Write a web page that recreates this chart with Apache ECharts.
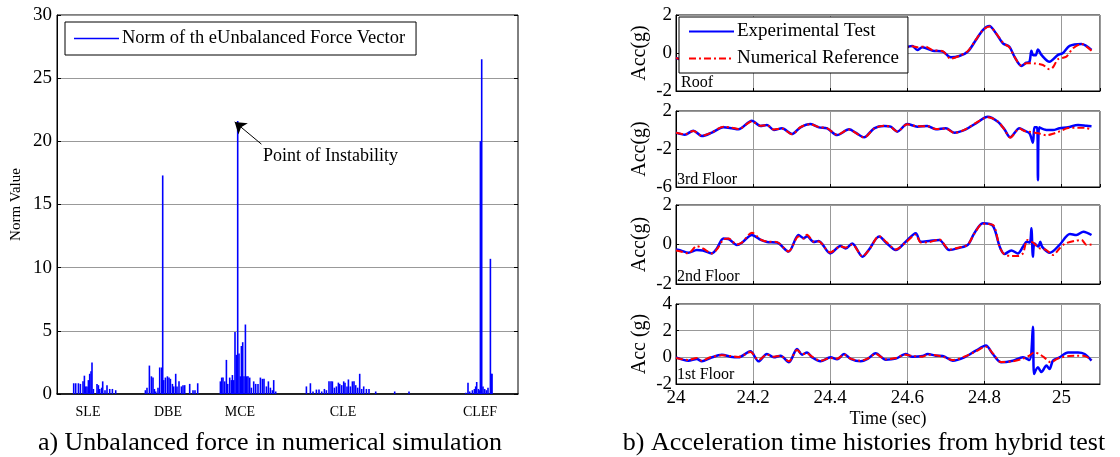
<!DOCTYPE html>
<html>
<head>
<meta charset="utf-8">
<script src="https://cdn.jsdelivr.net/npm/echarts@6/dist/echarts.min.js"></script>
<style>
html,body{margin:0;padding:0;background:#fff}
#chart{width:1120px;height:457px}
</style>
</head>
<body>
<div id="chart"></div>
<script>
// ---- a) unbalanced force norm, [step, norm] ----
var eventNames = ['SLE', 'DBE', 'MCE', 'CLE', 'CLEF'];
var eventSteps = [31, 111, 183, 286, 423];

var sleSpikes = [[16.7,0.85],[18.7,0.85],[21.4,0.85],[23.4,0.8],[26,1.0],[27.4,1.45],[28.7,0.6],[30,0.6],[31.4,1.1],[32.7,1.6],[34,1.8],[35,2.5],[36.4,0.4],[40,0.8],[41.4,0.7],[42.7,0.4],[44.7,0.5],[45.7,1.0],[48,0.3],[50,0.7],[52.7,0.4],[55.4,0.4],[58.7,0.3]];
var dbeSpikes = [[88.4,0.3],[90,0.5],[92.4,2.25],[94.4,1.4],[96,1.3],[97.4,0.4],[98.7,0.2],[101,0.5],[102.7,2.1],[104.7,2.1],[105.7,17.3],[106.7,1.1],[108.4,1.3],[110.4,1.4],[112,1.3],[113.4,1.2],[115.4,0.8],[116.7,0.6],[118.7,1.6],[120,0.6],[122,1.0],[124.4,0.6],[126,0.7],[127.7,0.7],[132.7,0.8],[136,0.3],[138,0.3],[140.7,0.85]];
var mceSpikes = [[163.4,1.0],[164.7,1.3],[166,1.3],[167.7,1.0],[169.4,2.7],[170.7,0.8],[172.7,1.3],[174.4,1.1],[175.4,1.5],[176.7,1.1],[178,4.9],[179.4,3.1],[180.7,21.6],[182,3.2],[183.4,1.4],[184.4,3.8],[185.7,4.1],[187,1.4],[188.4,5.5],[189.7,1.4],[191,1.4],[192.7,1.3],[194.4,0.5],[196.7,1.0],[198.7,0.8],[201,0.8],[203.4,1.3],[205.4,1.2],[207,1.2],[209.4,0.6],[211.4,1.0],[213.4,0.5],[215.4,0.3],[216.7,1.1],[218.7,0.2]];
var cleSpikes = [[249.4,0.6],[253.4,0.85],[256,0.2],[259.4,0.35],[262,0.35],[264.7,0.2],[267.4,0.4],[269.4,0.3],[272,1.0],[274,1.0],[275.4,1.0],[277.4,0.5],[279.4,0.6],[281.4,0.9],[282.7,0.8],[284.7,0.7],[286.7,1.0],[288,0.9],[290,0.6],[291.4,1.15],[293.4,0.6],[295.4,1.0],[297,1.0],[298.7,0.7],[300.7,0.5],[302.7,1.6],[304.7,0.4],[306.7,0.6],[309.4,0.4],[312,0.4],[318.7,0.2],[337.7,0.2],[352,0.2]];
var clefSpikes = [[408.7,0.1],[411,0.9],[412.7,0.2],[415.4,0.3],[417.4,0.4],[418.7,0.6],[419.7,0.95],[421.4,0.4],[422.7,0.3],[423.4,20.0],[424,20.0],[424.7,26.5],[426,0.6],[427.7,0.4],[429.4,0.3],[431,0.5],[433.4,10.7],[434.4,1.6],[435,1.6]];

// arrow of "Point of Instability" [step, norm]
var instabilityTail = [204.4, 19.78];
var instabilityTip = [177.7, 21.54];

// ---- b) acceleration histories, [time s, acc g] ----
var roofExp = [[24.00,-0.26],[24.03,-0.4],[24.06,-0.2],[24.09,-0.42],[24.12,0.2],[24.15,0.0],[24.19,0.5],[24.22,0.2],[24.26,0.05],[24.29,-0.35],[24.32,0.45],[24.35,0.35],[24.38,0.1],[24.40,-0.4],[24.43,-0.05],[24.46,0.0],[24.485,-0.5],[24.51,0.0],[24.53,0.4],[24.55,0.1],[24.575,-0.2],[24.60,0.3],[24.613,0.37],[24.626,0.16],[24.639,0.3],[24.666,0.12],[24.692,0.07],[24.713,-0.23],[24.735,-0.16],[24.757,0.07],[24.778,0.68],[24.796,1.21],[24.813,1.42],[24.83,1.04],[24.848,0.51],[24.865,0.33],[24.878,-0.19],[24.896,-0.68],[24.909,-0.51],[24.917,-0.46],[24.922,0.12],[24.926,-0.1],[24.933,-0.12],[24.939,0.19],[24.948,-0.1],[24.969,-0.46],[24.991,-0.1],[25.004,0],[25.021,0.37],[25.052,0.47],[25.078,0.16]];
var roofNum = [[24.00,-0.26],[24.03,-0.38],[24.06,-0.15],[24.09,-0.4],[24.12,0.22],[24.15,0.02],[24.19,0.55],[24.22,0.2],[24.26,0.08],[24.29,-0.35],[24.32,0.42],[24.35,0.38],[24.38,0.1],[24.40,-0.38],[24.43,-0.05],[24.46,0.02],[24.485,-0.48],[24.51,0.0],[24.53,0.38],[24.55,0.12],[24.575,-0.18],[24.60,0.3],[24.613,0.35],[24.626,0.3],[24.645,0.35],[24.666,0.15],[24.692,0.1],[24.713,-0.3],[24.735,-0.15],[24.757,0.1],[24.778,0.7],[24.796,1.2],[24.813,1.4],[24.83,1.05],[24.848,0.55],[24.865,0.3],[24.878,-0.2],[24.896,-0.65],[24.909,-0.54],[24.93,-0.55],[24.952,-0.63],[24.969,-0.86],[24.978,-0.75],[24.991,-0.33],[25.013,-0.19],[25.03,0.25],[25.052,0.47],[25.078,0.12]];

var f3Exp = [[24.00,-0.28],[24.023,-0.5],[24.045,-0.07],[24.067,-0.63],[24.093,-0.28],[24.123,0.28],[24.145,0.18],[24.162,0.07],[24.197,0.98],[24.219,0.42],[24.236,0.53],[24.254,0],[24.275,0.18],[24.301,-0.42],[24.323,0.28],[24.349,0.63],[24.371,0.28],[24.392,0.18],[24.418,-0.53],[24.449,0.07],[24.466,-0.28],[24.488,-0.77],[24.514,0.18],[24.54,0.42],[24.557,0.35],[24.574,-0.18],[24.6,0.63],[24.626,0.35],[24.652,0.42],[24.674,0.07],[24.7,0.18],[24.722,-0.28],[24.752,0.07],[24.778,0.7],[24.809,1.4],[24.835,0.88],[24.852,0.07],[24.867,-0.77],[24.891,0.18],[24.904,-0.07],[24.917,-0.35],[24.926,-1.33],[24.93,0.28],[24.937,0.28],[24.939,-5.3],[24.942,0.28],[24.961,0],[24.978,0],[24.995,0.18],[25.017,0.28],[25.043,0.53],[25.065,0.45],[25.078,0.4]];
var f3Num = [[24.00,-0.3],[24.023,-0.45],[24.045,-0.1],[24.067,-0.6],[24.093,-0.25],[24.123,0.35],[24.145,0.25],[24.162,0.1],[24.197,0.9],[24.219,0.45],[24.236,0.5],[24.254,0.05],[24.275,0.15],[24.301,-0.45],[24.323,0.3],[24.349,0.6],[24.371,0.3],[24.392,0.2],[24.418,-0.5],[24.449,0.05],[24.466,-0.3],[24.488,-0.8],[24.514,0.15],[24.54,0.45],[24.557,0.3],[24.574,-0.15],[24.6,0.6],[24.626,0.4],[24.652,0.4],[24.674,0.1],[24.7,0.15],[24.722,-0.3],[24.752,0.1],[24.778,0.75],[24.809,1.35],[24.835,0.9],[24.852,0.05],[24.867,-0.8],[24.891,0.15],[24.904,-0.1],[24.92,-0.2],[24.94,-0.35],[24.961,-0.55],[24.978,-0.4],[24.995,-0.15],[25.017,0.2],[25.043,0.25],[25.065,0.2],[25.078,0.05]];

var f2Exp = [[24.00,-0.25],[24.012,-0.3],[24.032,-0.42],[24.054,-0.28],[24.07,-0.3],[24.093,-0.45],[24.106,-0.2],[24.123,0.3],[24.136,0.28],[24.158,-0.03],[24.171,0.09],[24.197,0.48],[24.22,0.23],[24.236,0.13],[24.262,0.1],[24.292,-0.36],[24.318,0.48],[24.331,0.32],[24.34,0.42],[24.357,0.13],[24.37,0.18],[24.40,-0.45],[24.427,-0.08],[24.44,-0.2],[24.457,0.05],[24.484,-0.62],[24.50,-0.28],[24.527,0.4],[24.546,0.08],[24.57,-0.28],[24.596,0.14],[24.622,0.57],[24.635,0.14],[24.657,0.18],[24.683,0.23],[24.709,-0.28],[24.735,-0.17],[24.757,-0.02],[24.774,0.57],[24.796,1.08],[24.822,0.95],[24.84,-0.12],[24.852,-0.48],[24.87,-0.3],[24.887,-0.45],[24.9,-0.12],[24.91,0.14],[24.918,0.1],[24.922,0.82],[24.926,-0.62],[24.93,0.05],[24.94,-0.1],[24.945,0.14],[24.95,-0.12],[24.97,-0.42],[24.995,-0.02],[25.022,0.53],[25.039,0.48],[25.057,0.65],[25.078,0.48]];
var f2Num = [[24.00,-0.3],[24.012,-0.35],[24.032,-0.45],[24.054,-0.08],[24.07,-0.2],[24.093,-0.45],[24.106,-0.25],[24.123,0.25],[24.136,0.3],[24.158,0.0],[24.171,0.1],[24.197,0.6],[24.22,0.25],[24.236,0.15],[24.262,0.12],[24.292,-0.35],[24.318,0.4],[24.331,0.3],[24.34,0.5],[24.357,0.15],[24.37,0.15],[24.40,-0.4],[24.427,-0.1],[24.44,-0.15],[24.457,0.0],[24.484,-0.6],[24.50,-0.3],[24.527,0.42],[24.546,0.12],[24.57,-0.25],[24.596,0.1],[24.622,0.5],[24.635,0.1],[24.657,0.12],[24.683,0.25],[24.709,-0.25],[24.735,-0.15],[24.757,0.0],[24.774,0.55],[24.796,1.05],[24.822,1.0],[24.84,-0.15],[24.852,-0.5],[24.87,-0.58],[24.887,-0.58],[24.9,-0.45],[24.912,0.23],[24.926,0.1],[24.944,-0.2],[24.961,-0.28],[24.978,-0.53],[24.995,-0.2],[25.01,0.05],[25.039,0.2],[25.052,0.23],[25.065,-0.02],[25.078,0.0]];

var f1Exp = [[24.00,0],[24.032,-0.25],[24.054,-0.12],[24.067,-0.3],[24.089,-0.05],[24.119,0.2],[24.141,0.05],[24.162,0],[24.193,0.45],[24.214,-0.3],[24.236,0.25],[24.254,0],[24.271,0.12],[24.293,-0.37],[24.314,0.63],[24.327,0.2],[24.34,0.37],[24.353,0],[24.375,-0.3],[24.401,0],[24.418,-0.15],[24.436,0.25],[24.453,-0.12],[24.479,-0.3],[24.497,-0.12],[24.518,0.3],[24.544,-0.18],[24.57,-0.1],[24.596,0.25],[24.613,0.05],[24.64,0.1],[24.653,0.25],[24.674,0.12],[24.692,0.1],[24.718,-0.25],[24.748,0],[24.778,0.5],[24.804,0.88],[24.822,0.25],[24.843,-0.37],[24.874,-0.25],[24.9,0],[24.917,-0.2],[24.926,2.3],[24.929,-1.25],[24.939,-0.75],[24.948,-1.1],[24.961,-0.62],[24.969,-0.87],[24.978,-0.25],[24.995,0],[25.017,0.37],[25.043,0.37],[25.06,0.25],[25.078,-0.25]];
var f1Num = [[24.00,-0.05],[24.032,-0.2],[24.054,-0.05],[24.067,-0.25],[24.089,0.0],[24.119,0.15],[24.141,0.1],[24.162,0.02],[24.193,0.4],[24.214,-0.2],[24.236,0.2],[24.254,0.05],[24.271,0.1],[24.293,-0.3],[24.314,0.55],[24.327,0.25],[24.34,0.3],[24.353,0.05],[24.375,-0.25],[24.401,-0.05],[24.418,-0.1],[24.436,0.2],[24.453,-0.1],[24.479,-0.25],[24.497,-0.1],[24.518,0.25],[24.544,-0.15],[24.57,-0.05],[24.596,0.2],[24.613,0.1],[24.64,0.05],[24.653,0.2],[24.674,0.15],[24.692,0.05],[24.718,-0.2],[24.748,0.05],[24.778,0.45],[24.804,0.8],[24.822,0.3],[24.843,-0.35],[24.874,-0.3],[24.9,-0.1],[24.915,0.1],[24.93,0.37],[24.945,0.2],[24.955,0],[24.972,-0.37],[24.99,-0.1],[25.0,0],[25.02,0.1],[25.04,0.12],[25.06,0.1],[25.078,-0.2]];

var serif = '"Liberation Serif", "Times New Roman", serif';
var chart = echarts.init(document.getElementById('chart'));

// one stacked panel of figure b)
function timeAxis(grid, showLabels) {
	return {
		gridIndex: grid, type: 'value', min: 24, max: 25.1, interval: 0.2,
		axisLine: {onZero: false, lineStyle: {color: '#000'}},
		axisTick: {inside: true, length: 3, lineStyle: {color: '#000'}},
		splitLine: {show: true, lineStyle: {color: '#999'}},
		axisLabel: {show: showLabels, showMaxLabel: false, fontSize: 19, color: '#000', margin: 5,
			formatter: function (v) { return String(+v.toFixed(1)); }},
		name: showLabels ? 'Time (sec)' : '', nameLocation: 'middle', nameGap: 26,
		nameTextStyle: {fontSize: 18, color: '#000'}
	};
}
function accAxis(grid, min, max, interval, name) {
	return {
		gridIndex: grid, type: 'value', min: min, max: max, interval: interval,
		axisLine: {onZero: false, lineStyle: {color: '#000'}},
		axisTick: {inside: true, length: 3, lineStyle: {color: '#000'}},
		splitLine: {show: true, lineStyle: {color: '#999'}},
		axisLabel: {fontSize: 19, color: '#000', margin: 4},
		name: name, nameLocation: 'middle', nameGap: 26,
		nameTextStyle: {fontSize: 20, color: '#000'}
	};
}
function expLine(axis, data) {
	return {type: 'line', name: 'Experimental Test', xAxisIndex: axis, yAxisIndex: axis + 1, data: data,
		symbol: 'none', smooth: 0.3, lineStyle: {color: '#0000ff', width: 2.5}, itemStyle: {color: '#0000ff'}};
}
function numLine(axis, data) {
	return {type: 'line', name: 'Numerical Reference', xAxisIndex: axis, yAxisIndex: axis + 1, data: data,
		symbol: 'none', smooth: 0.3, lineStyle: {color: '#ff0000', width: 2, type: [7, 3, 2, 3]}, itemStyle: {color: '#ff0000'}};
}
function label(text, x, y, size, align) {
	return {type: 'text', z: 100, style: {text: text, x: x, y: y, font: size + 'px ' + serif,
		fill: '#000', align: align || 'left', verticalAlign: 'middle'}};
}

chart.setOption({
	animation: false,
	textStyle: {fontFamily: serif, color: '#000'},
	grid: [
		{left: 57, top: 15, width: 461, height: 379, show: true, borderColor: '#000', borderWidth: 1},
		{left: 676, top: 15, width: 424, height: 76, show: true, borderColor: '#000', borderWidth: 1},
		{left: 676, top: 111, width: 424, height: 76, show: true, borderColor: '#000', borderWidth: 1},
		{left: 676, top: 205, width: 424, height: 79, show: true, borderColor: '#000', borderWidth: 1},
		{left: 676, top: 304, width: 424, height: 80, show: true, borderColor: '#000', borderWidth: 1}
	],
	xAxis: [
		{
			gridIndex: 0, type: 'value', min: 0, max: 461,
			splitLine: {show: false},
			axisLine: {onZero: false, lineStyle: {color: '#000', width: 1.5}},
			axisTick: {show: false},
			axisLabel: {customValues: eventSteps, fontSize: 14, color: '#000', margin: 11,
				formatter: function (v) { return eventNames[eventSteps.indexOf(v)]; }}
		},
		timeAxis(1, false), timeAxis(2, false), timeAxis(3, false), timeAxis(4, true)
	],
	yAxis: [
		{
			gridIndex: 0, type: 'value', min: 0, max: 30, interval: 5,
			axisLine: {lineStyle: {color: '#000'}},
			axisTick: {inside: true, length: 4, lineStyle: {color: '#000'}},
			splitLine: {lineStyle: {color: '#999'}},
			axisLabel: {fontSize: 19, color: '#000', margin: 5},
			name: 'Norm Value', nameLocation: 'middle', nameGap: 33,
			nameTextStyle: {fontSize: 15, color: '#000'}
		},
		{
			gridIndex: 0, type: 'value', position: 'right', min: 0, max: 30, interval: 5,
			axisLine: {show: false}, splitLine: {show: false}, axisLabel: {show: false},
			axisTick: {inside: true, length: 4, lineStyle: {color: '#000'}}
		},
		accAxis(1, -2, 2, 2, 'Acc(g)'),
		accAxis(2, -6, 2, 4, 'Acc(g)'),
		accAxis(3, -2, 2, 2, 'Acc(g)'),
		accAxis(4, -2, 4, 2, 'Acc (g)')
	],
	legend: [
		{
			data: [{name: 'Norm of th eUnbalanced Force Vector', icon: 'rect'}],
			left: 65, top: 22, itemWidth: 45, itemHeight: 1.5, padding: [7, 11, 7, 9],
			borderColor: '#000', borderWidth: 1, backgroundColor: '#fff', borderRadius: 0,
			selectedMode: false,
			textStyle: {fontSize: 18.5, color: '#000', fontFamily: serif, padding: [0, 0, 0, -2]}
		},
		{
			data: ['Experimental Test', 'Numerical Reference'],
			left: 679, top: 17, orient: 'vertical', itemWidth: 45, itemHeight: 14, itemGap: 8,
			padding: [5, 9, 5, 9], borderColor: '#000', borderWidth: 1, backgroundColor: '#fff',
			borderRadius: 0, selectedMode: false,
			itemStyle: {opacity: 0},
			textStyle: {fontSize: 19, color: '#000', fontFamily: serif, padding: [0, 0, 0, -2]}
		}
	],
	graphic: [
		label('Point of Instability', 263, 156, 18),
		label('Roof', 681, 83, 16),
		label('3rd Floor', 677, 180, 16),
		label('2nd Floor', 677, 277, 16),
		label('1st Floor', 677, 375, 16),
		label('a) Unbalanced force in numerical simulation', 270, 443, 26, 'center'),
		label('b) Acceleration time histories from hybrid test', 864, 443, 26, 'center')
	],
	series: [
		{
			type: 'bar', name: 'Norm of th eUnbalanced Force Vector', xAxisIndex: 0, yAxisIndex: 0,
			data: [].concat(sleSpikes, dbeSpikes, mceSpikes, cleSpikes, clefSpikes),
			barWidth: 1.6, itemStyle: {color: '#0000ff'},
			markLine: {
				silent: true, symbol: ['none', 'arrow'], symbolSize: 11,
				lineStyle: {color: '#000', width: 1, type: 'solid'}, label: {show: false},
				data: [[{coord: instabilityTail}, {coord: instabilityTip}]]
			}
		},
		expLine(1, roofExp), numLine(1, roofNum),
		expLine(2, f3Exp), numLine(2, f3Num),
		expLine(3, f2Exp), numLine(3, f2Num),
		expLine(4, f1Exp), numLine(4, f1Num)
	]
});
</script>
</body>
</html>
